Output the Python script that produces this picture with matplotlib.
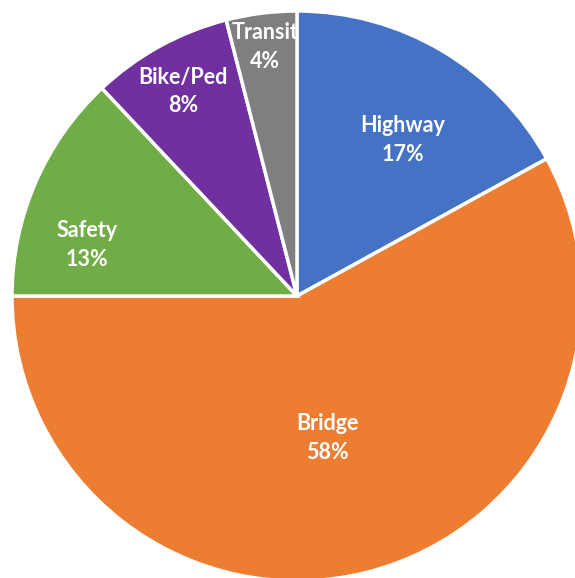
import numpy as np
import matplotlib.pyplot as plt

categories = ["Highway", "Bridge", "Safety", "Bike/Ped", "Transit"]
shares = [17, 58, 13, 8, 4]
colors = ["#4472C4", "#ED7D31", "#70AD47", "#7030A0", "#7F7F7F"]

# label placement tweaks (radius as fraction of pie radius, angle shift in degrees)
label_r = [0.67, 0.50, 0.76, 0.83, 0.89]
label_shift = [-3, -2, 9, 0, 0]

fig = plt.figure(figsize=(5.75, 5.78), dpi=100)
ax = fig.add_axes([0, 0, 1, 1])

wedges, _ = ax.pie(shares, colors=colors, startangle=90, counterclock=False,
                   radius=1, wedgeprops=dict(edgecolor="white", linewidth=2.5))

for w, name, s, r, sh in zip(wedges, categories, shares, label_r, label_shift):
    mid = np.deg2rad((w.theta1 + w.theta2) / 2 + sh)
    t = ax.text(r * np.cos(mid), r * np.sin(mid) - 0.01, "{}\n{}%".format(name, s),
                ha="center", va="center", color="white", fontsize=15.5,
                fontweight="bold", family=["Lato", "DejaVu Sans"], linespacing=1.45)
    t.set_clip_path(w)

ax.set_aspect("equal")
ax.set_xlim(-297 / 285, (575 - 297) / 285)
ax.set_ylim(-(578 - 296) / 285, 296 / 285)
ax.axis("off")

fig.savefig("out.png", dpi=100)
